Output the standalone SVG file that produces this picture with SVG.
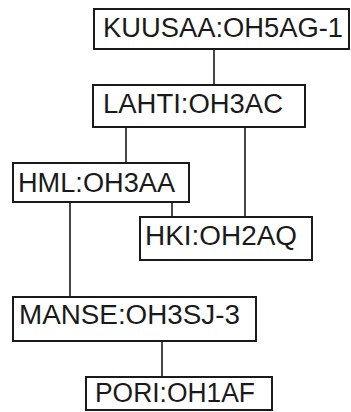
<svg xmlns="http://www.w3.org/2000/svg" width="351" height="412" viewBox="0 0 351 412">
  <style>
    .box { fill: #ffffff; stroke: #1a1a1a; stroke-width: 2; }
    .lbl { font-family: "Liberation Sans", Arial, sans-serif; font-size: 27px; fill: #1a1a1a; }
    .link { stroke: #1a1a1a; stroke-width: 1.6; fill: none; }
  </style>
  <rect width="351" height="412" fill="#ffffff"/>

  <!-- connectors -->
  <g id="connectors">
    <line class="link" x1="214" y1="49" x2="214" y2="85"/>
    <line class="link" x1="126" y1="127" x2="126" y2="163"/>
    <line class="link" x1="245" y1="127" x2="245" y2="217"/>
    <line class="link" x1="172" y1="202" x2="172" y2="217"/>
    <line class="link" x1="70" y1="202" x2="70" y2="297"/>
    <line class="link" x1="162" y1="341" x2="162" y2="377"/>
  </g>

  <!-- nodes -->
  <g id="kuusaa">
    <rect class="box" x="94" y="9" width="255" height="40"/>
    <text class="lbl" x="103" y="37" textLength="240" lengthAdjust="spacingAndGlyphs">KUUSAA:OH5AG-1</text>
  </g>
  <g id="lahti">
    <rect class="box" x="93" y="85" width="212" height="42"/>
    <text class="lbl" x="103" y="113" textLength="180" lengthAdjust="spacingAndGlyphs">LAHTI:OH3AC</text>
  </g>
  <g id="hml">
    <rect class="box" x="13" y="163" width="176" height="39"/>
    <text class="lbl" x="18" y="192" textLength="157" lengthAdjust="spacingAndGlyphs">HML:OH3AA</text>
  </g>
  <g id="hki">
    <rect class="box" x="140" y="217" width="172" height="43"/>
    <text class="lbl" x="145" y="245" textLength="152" lengthAdjust="spacingAndGlyphs">HKI:OH2AQ</text>
  </g>
  <g id="manse">
    <rect class="box" x="13" y="297" width="243" height="44"/>
    <text class="lbl" x="19" y="324" textLength="221" lengthAdjust="spacingAndGlyphs">MANSE:OH3SJ-3</text>
  </g>
  <g id="pori">
    <rect class="box" x="86" y="377" width="186" height="33"/>
    <text class="lbl" x="95" y="402" textLength="160" lengthAdjust="spacingAndGlyphs">PORI:OH1AF</text>
  </g>
</svg>
